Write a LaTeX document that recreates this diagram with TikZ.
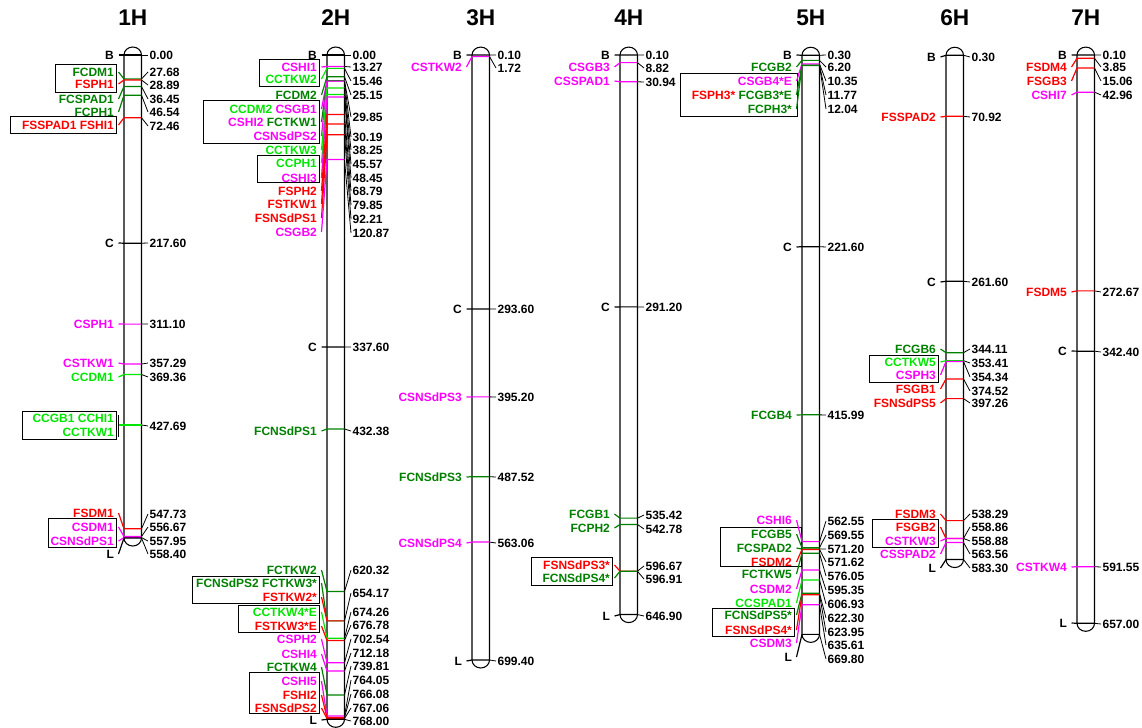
\documentclass[tikz,border=0pt]{standalone}
\usepackage{fontspec}
\setmainfont{Liberation Sans}

\definecolor{qred}{RGB}{255,0,0}
\definecolor{qdkgreen}{RGB}{0,128,0}
\definecolor{qlime}{RGB}{0,230,0}
\definecolor{qmag}{RGB}{255,0,255}

\tikzset{
  lbl/.style={anchor=east,inner sep=1pt,font=\bfseries\fontsize{9}{10}\selectfont},
  num/.style={anchor=west,inner sep=1pt,font=\bfseries\fontsize{9}{10}\selectfont},
  ttl/.style={font=\bfseries\fontsize{17}{20}\selectfont},
  bar/.style={line width=0.8pt},
  grp/.style={line width=0.7pt},
  lnk/.style={line width=0.9pt},
}

% y of a position in cM
\newcommand{\cy}[1]{\pgfmathsetmacro{\ty}{55+0.865*#1}}
% chromosome: title, top cM, bottom cM
\newcommand{\chrom}[3]{%
  \cy{#2}\let\chtop\ty
  \cy{#3}\let\chbot\ty
  \draw[bar,fill=white] (0,\chbot) -- (0,\chtop) arc[start angle=180,end angle=360,x radius=8.75,y radius=8]
    -- (17.5,\chbot) arc[start angle=0,end angle=180,x radius=8.75,y radius=8] -- cycle;
  \node[ttl] (t#1) at (8.75,18) {#1};
}
% marker name: node, colour, label y, cM, text
\newcommand{\mkname}[5]{%
  \node[lbl,text=#2] (#1) at (-8.5,#3) {#5};
  \cy{#4}
  \draw[lnk,#2] (#1.east) ++(3,0) -- (0,\ty) -- (17.5,\ty);
}
% position: node, label y, cM, text
\newcommand{\mkpos}[4]{%
  \node[num] (#1) at (24,#2) {#4};
  \cy{#3}
  \draw[line width=0.6pt] (17.5,\ty) -- (#1.west);
}

\begin{document}
\begin{tikzpicture}[x=0.75pt,y=0.75pt,yscale=-1,xscale=1]
\useasboundingbox (0,0) rectangle (1142,728);

%% 1H
\begin{scope}[shift={(124,0)}]
\chrom{1H}{0}{558.40}
\draw[grp] (-69,64) rectangle (-7.5,92);
\draw[grp] (-114,116) rectangle (-7.5,133);
\draw[grp] (-102,411) rectangle (-7.5,439);
\draw[grp] (-76,518) rectangle (-7.5,547);
\mkname{a-b}{black}{55}{0}{B}              \mkpos{a-p0}{55}{0}{0.00}
\mkname{a-1}{qdkgreen}{72}{27.68}{FCDM1}   \mkpos{a-p1}{72}{27.68}{27.68}
\mkname{a-2}{qred}{84}{28.89}{FSPH1}       \mkpos{a-p2}{85}{28.89}{28.89}
\mkname{a-3}{qdkgreen}{99}{36.45}{FCSPAD1} \mkpos{a-p3}{99}{36.45}{36.45}
\mkname{a-4}{qdkgreen}{112}{46.54}{FCPH1}  \mkpos{a-p4}{112}{46.54}{46.54}
\mkname{a-5}{qred}{125}{72.46}{FSSPAD1 FSHI1} \mkpos{a-p5}{126}{72.46}{72.46}
\mkname{a-c}{black}{243}{217.60}{C}        \mkpos{a-p6}{243}{217.60}{217.60}
\mkname{a-6}{qmag}{324}{311.10}{CSPH1}     \mkpos{a-p7}{324}{311.10}{311.10}
\mkname{a-7}{qmag}{363}{357.29}{CSTKW1}    \mkpos{a-p8}{363}{357.29}{357.29}
\mkname{a-8}{qlime}{377}{369.36}{CCDM1}    \mkpos{a-p9}{377}{369.36}{369.36}
\node[lbl,text=qlime] (a-9) at (-8.5,418) {CCGB1 CCHI1};
\node[lbl,text=qlime] (a-10) at (-8.5,432) {CCTKW1};
\draw[grp] (-5.5,415) -- (-5.5,437);
\cy{427.69}
\draw[lnk,qlime] (-5.5,\ty) -- (17.5,\ty);
\mkpos{a-p10}{426}{427.69}{427.69}
\mkname{a-11}{qred}{513}{547.73}{FSDM1}    \mkpos{a-p11}{514}{547.73}{547.73}
\mkname{a-12}{qmag}{527}{556.67}{CSDM1}    \mkpos{a-p12}{527}{556.67}{556.67}
\mkname{a-13}{qmag}{541}{557.95}{CSNSdPS1} \mkpos{a-p13}{541}{557.95}{557.95}
\mkname{a-l}{black}{554}{558.40}{L}        \mkpos{a-p14}{554}{558.40}{558.40}
\end{scope}

%% 2H
\begin{scope}[shift={(327,0)}]
\chrom{2H}{0}{768.00}
\draw[grp] (-68,59) rectangle (-7.5,86);
\draw[grp] (-124,100) rectangle (-7.5,143);
\draw[grp] (-70,155) rectangle (-7.5,182);
\draw[grp] (-135,576) rectangle (-7.5,603);
\draw[grp] (-89,605) rectangle (-7.5,632);
\draw[grp] (-78,672) rectangle (-7.5,713);
\mkname{b-b}{black}{55}{0}{B}               \mkpos{b-p0}{55}{0}{0.00}
\mkname{b-1}{qmag}{67}{13.27}{CSHI1}        \mkpos{b-p1}{67}{13.27}{13.27}
\mkname{b-2}{qlime}{79}{15.46}{CCTKW2}      \mkpos{b-p2}{81}{15.46}{15.46}
\mkname{b-3}{qdkgreen}{95}{25.15}{FCDM2}    \mkpos{b-p3}{95}{25.15}{25.15}
\mkname{b-4}{qmag}{109}{29.85}{\textcolor{qlime}{CCDM2} CSGB1}
\mkname{b-5}{qdkgreen}{122}{29.85}{\textcolor{qmag}{CSHI2} FCTKW1} \mkpos{b-p4}{117}{29.85}{29.85}
\mkname{b-6}{qmag}{136}{30.19}{CSNSdPS2}    \mkpos{b-p5}{137}{30.19}{30.19}
\mkname{b-7}{qlime}{150}{38.25}{CCTKW3}     \mkpos{b-p6}{150}{38.25}{38.25}
\mkname{b-8}{qlime}{163}{45.57}{CCPH1}      \mkpos{b-p7}{164}{45.57}{45.57}
\mkname{b-9}{qmag}{178}{48.45}{CSHI3}       \mkpos{b-p8}{178}{48.45}{48.45}
\mkname{b-10}{qred}{191}{68.79}{FSPH2}      \mkpos{b-p9}{191}{68.79}{68.79}
\mkname{b-11}{qred}{204}{79.85}{FSTKW1}     \mkpos{b-p10}{205}{79.85}{79.85}
\mkname{b-12}{qred}{218}{92.21}{FSNSdPS1}   \mkpos{b-p11}{219}{92.21}{92.21}
\mkname{b-13}{qmag}{232}{120.87}{CSGB2}     \mkpos{b-p12}{233}{120.87}{120.87}
\mkname{b-c}{black}{347}{337.60}{C}         \mkpos{b-p13}{347}{337.60}{337.60}
\mkname{b-14}{qdkgreen}{431}{432.38}{FCNSdPS1} \mkpos{b-p14}{431}{432.38}{432.38}
\mkname{b-15}{qdkgreen}{570}{620.32}{FCTKW2}   \mkpos{b-p15}{570}{620.32}{620.32}
\mkname{b-16}{qdkgreen}{583}{654.17}{FCNSdPS2 FCTKW3*}
\mkname{b-17}{qred}{597}{654.17}{FSTKW2*}      \mkpos{b-p16}{593}{654.17}{654.17}
\mkname{b-18}{qlime}{612}{674.26}{CCTKW4*E}    \mkpos{b-p17}{612}{674.26}{674.26}
\mkname{b-19}{qred}{626}{676.78}{FSTKW3*E}     \mkpos{b-p18}{625}{676.78}{676.78}
\mkname{b-20}{qmag}{639}{702.54}{CSPH2}        \mkpos{b-p19}{639}{702.54}{702.54}
\mkname{b-21}{qmag}{654}{712.18}{CSHI4}        \mkpos{b-p20}{653}{712.18}{712.18}
\mkname{b-22}{qdkgreen}{667}{739.81}{FCTKW4}   \mkpos{b-p21}{666}{739.81}{739.81}
\mkname{b-23}{qmag}{681}{764.05}{CSHI5}        \mkpos{b-p22}{680}{764.05}{764.05}
\mkname{b-24}{qred}{695}{766.08}{FSHI2}        \mkpos{b-p23}{694}{766.08}{766.08}
\mkname{b-25}{qred}{708}{767.06}{FSNSdPS2}     \mkpos{b-p24}{708}{767.06}{767.06}
\mkname{b-l}{black}{720}{768.00}{L}            \mkpos{b-p25}{721}{768.00}{768.00}
\end{scope}

%% 3H
\begin{scope}[shift={(472,0)}]
\chrom{3H}{0.10}{699.40}
\mkname{c-b}{black}{55}{0.10}{B}              \mkpos{c-p0}{55}{0.10}{0.10}
\mkname{c-1}{qmag}{67}{1.72}{CSTKW2}          \mkpos{c-p1}{68}{1.72}{1.72}
\mkname{c-c}{black}{309}{293.60}{C}           \mkpos{c-p2}{309}{293.60}{293.60}
\mkname{c-2}{qmag}{397}{395.20}{CSNSdPS3}     \mkpos{c-p3}{397}{395.20}{395.20}
\mkname{c-3}{qdkgreen}{477}{487.52}{FCNSdPS3} \mkpos{c-p4}{477}{487.52}{487.52}
\mkname{c-4}{qmag}{543}{563.06}{CSNSdPS4}     \mkpos{c-p5}{543}{563.06}{563.06}
\mkname{c-l}{black}{661}{699.40}{L}           \mkpos{c-p6}{661}{699.40}{699.40}
\end{scope}

%% 4H
\begin{scope}[shift={(620,0)}]
\chrom{4H}{0.10}{646.90}
\draw[grp] (-89,557) rectangle (-7.5,585);
\mkname{d-b}{black}{55}{0.10}{B}              \mkpos{d-p0}{55}{0.10}{0.10}
\mkname{d-1}{qmag}{67}{8.82}{CSGB3}           \mkpos{d-p1}{68}{8.82}{8.82}
\mkname{d-2}{qmag}{81}{30.94}{CSSPAD1}        \mkpos{d-p2}{82}{30.94}{30.94}
\mkname{d-c}{black}{307}{291.20}{C}           \mkpos{d-p3}{307}{291.20}{291.20}
\mkname{d-3}{qdkgreen}{514}{535.42}{FCGB1}    \mkpos{d-p4}{515}{535.42}{535.42}
\mkname{d-4}{qdkgreen}{528}{542.78}{FCPH2}    \mkpos{d-p5}{529}{542.78}{542.78}
\mkname{d-5}{qred}{565}{596.67}{FSNSdPS3*}    \mkpos{d-p6}{566}{596.67}{596.67}
\mkname{d-6}{qdkgreen}{578}{596.91}{FCNSdPS4*} \mkpos{d-p7}{579}{596.91}{596.91}
\mkname{d-l}{black}{616}{646.90}{L}           \mkpos{d-p8}{616}{646.90}{646.90}
\end{scope}

%% 5H
\begin{scope}[shift={(802,0)}]
\chrom{5H}{0.30}{669.80}
\draw[grp] (-122,73) rectangle (-5,116);
\draw[grp] (-82,527) rectangle (-1,566);
\draw[grp] (-90,608) rectangle (-7.5,636);
\mkname{e-b}{black}{55}{0.30}{B}              \mkpos{e-p0}{55}{0.30}{0.30}
\mkname{e-1}{qdkgreen}{67}{6.20}{FCGB2}       \mkpos{e-p1}{67}{6.20}{6.20}
\mkname{e-2}{qmag}{81}{10.35}{CSGB4*E}        \mkpos{e-p2}{81}{10.35}{10.35}
\mkname{e-3}{qdkgreen}{95}{11.77}{\textcolor{qred}{FSPH3*} FCGB3*E} \mkpos{e-p3}{95}{11.77}{11.77}
\mkname{e-4}{qdkgreen}{109}{12.04}{FCPH3*}    \mkpos{e-p4}{109}{12.04}{12.04}
\mkname{e-c}{black}{247}{221.60}{C}           \mkpos{e-p5}{247}{221.60}{221.60}
\mkname{e-5}{qdkgreen}{415}{415.99}{FCGB4}    \mkpos{e-p6}{415}{415.99}{415.99}
\mkname{e-6}{qmag}{520}{562.55}{CSHI6}        \mkpos{e-p7}{521}{562.55}{562.55}
\mkname{e-7}{qdkgreen}{534}{569.55}{FCGB5}    \mkpos{e-p8}{535}{569.55}{569.55}
\mkname{e-8}{qdkgreen}{548}{571.20}{FCSPAD2}  \mkpos{e-p9}{549}{571.20}{571.20}
\mkname{e-9}{qred}{562}{571.62}{FSDM2}        \mkpos{e-p10}{562}{571.62}{571.62}
\mkname{e-10}{qdkgreen}{574}{576.05}{FCTKW5}  \mkpos{e-p11}{576}{576.05}{576.05}
\mkname{e-11}{qmag}{589}{595.35}{CSDM2}       \mkpos{e-p12}{590}{595.35}{595.35}
\mkname{e-12}{qlime}{603}{606.93}{CCSPAD1}    \mkpos{e-p13}{604}{606.93}{606.93}
\mkname{e-13}{qdkgreen}{615}{622.30}{FCNSdPS5*} \mkpos{e-p14}{618}{622.30}{622.30}
\mkname{e-14}{qred}{630}{623.95}{FSNSdPS4*}   \mkpos{e-p15}{632}{623.95}{623.95}
\mkname{e-15}{qmag}{643}{635.61}{CSDM3}       \mkpos{e-p16}{645}{635.61}{635.61}
\mkname{e-l}{black}{657}{669.80}{L}           \mkpos{e-p17}{659}{669.80}{669.80}
\end{scope}

%% 6H
\begin{scope}[shift={(946,0)}]
\chrom{6H}{0.30}{583.30}
\draw[grp] (-77,355) rectangle (-7.5,382);
\draw[grp] (-74,519) rectangle (-7.5,547);
\mkname{f-b}{black}{57}{0.30}{B}              \mkpos{f-p0}{57}{0.30}{0.30}
\mkname{f-1}{qred}{117}{70.92}{FSSPAD2}       \mkpos{f-p1}{117}{70.92}{70.92}
\mkname{f-c}{black}{282}{261.60}{C}           \mkpos{f-p2}{282}{261.60}{261.60}
\mkname{f-2}{qdkgreen}{349}{344.11}{FCGB6}    \mkpos{f-p3}{349}{344.11}{344.11}
\mkname{f-3}{qlime}{362}{353.41}{CCTKW5}      \mkpos{f-p4}{363}{353.41}{353.41}
\mkname{f-4}{qmag}{375}{354.34}{CSPH3}        \mkpos{f-p5}{377}{354.34}{354.34}
\mkname{f-5}{qred}{389}{374.52}{FSGB1}        \mkpos{f-p6}{391}{374.52}{374.52}
\mkname{f-6}{qred}{403}{397.26}{FSNSdPS5}     \mkpos{f-p7}{403}{397.26}{397.26}
\mkname{f-7}{qred}{514}{538.29}{FSDM3}        \mkpos{f-p8}{514}{538.29}{538.29}
\mkname{f-8}{qred}{527}{558.86}{FSGB2}        \mkpos{f-p9}{527}{558.86}{558.86}
\mkname{f-9}{qmag}{541}{558.88}{CSTKW3}       \mkpos{f-p10}{541}{558.88}{558.88}
\mkname{f-10}{qmag}{554}{563.56}{CSSPAD2}     \mkpos{f-p11}{554}{563.56}{563.56}
\mkname{f-l}{black}{568}{583.30}{L}           \mkpos{f-p12}{568}{583.30}{583.30}
\end{scope}

%% 7H
\begin{scope}[shift={(1077,0)}]
\chrom{7H}{0.10}{657.00}
\mkname{g-b}{black}{55}{0.10}{B}              \mkpos{g-p0}{55}{0.10}{0.10}
\mkname{g-1}{qred}{67}{3.85}{FSDM4}           \mkpos{g-p1}{67}{3.85}{3.85}
\mkname{g-2}{qred}{81}{15.06}{FSGB3}          \mkpos{g-p2}{81}{15.06}{15.06}
\mkname{g-3}{qmag}{95}{42.96}{CSHI7}          \mkpos{g-p3}{95}{42.96}{42.96}
\mkname{g-4}{qred}{292}{272.67}{FSDM5}        \mkpos{g-p4}{292}{272.67}{272.67}
\mkname{g-c}{black}{351}{342.40}{C}           \mkpos{g-p5}{352}{342.40}{342.40}
\mkname{g-5}{qmag}{567}{591.55}{CSTKW4}       \mkpos{g-p6}{567}{591.55}{591.55}
\mkname{g-l}{black}{623}{657.00}{L}           \mkpos{g-p7}{624}{657.00}{657.00}
\end{scope}

\end{tikzpicture}
\end{document}
